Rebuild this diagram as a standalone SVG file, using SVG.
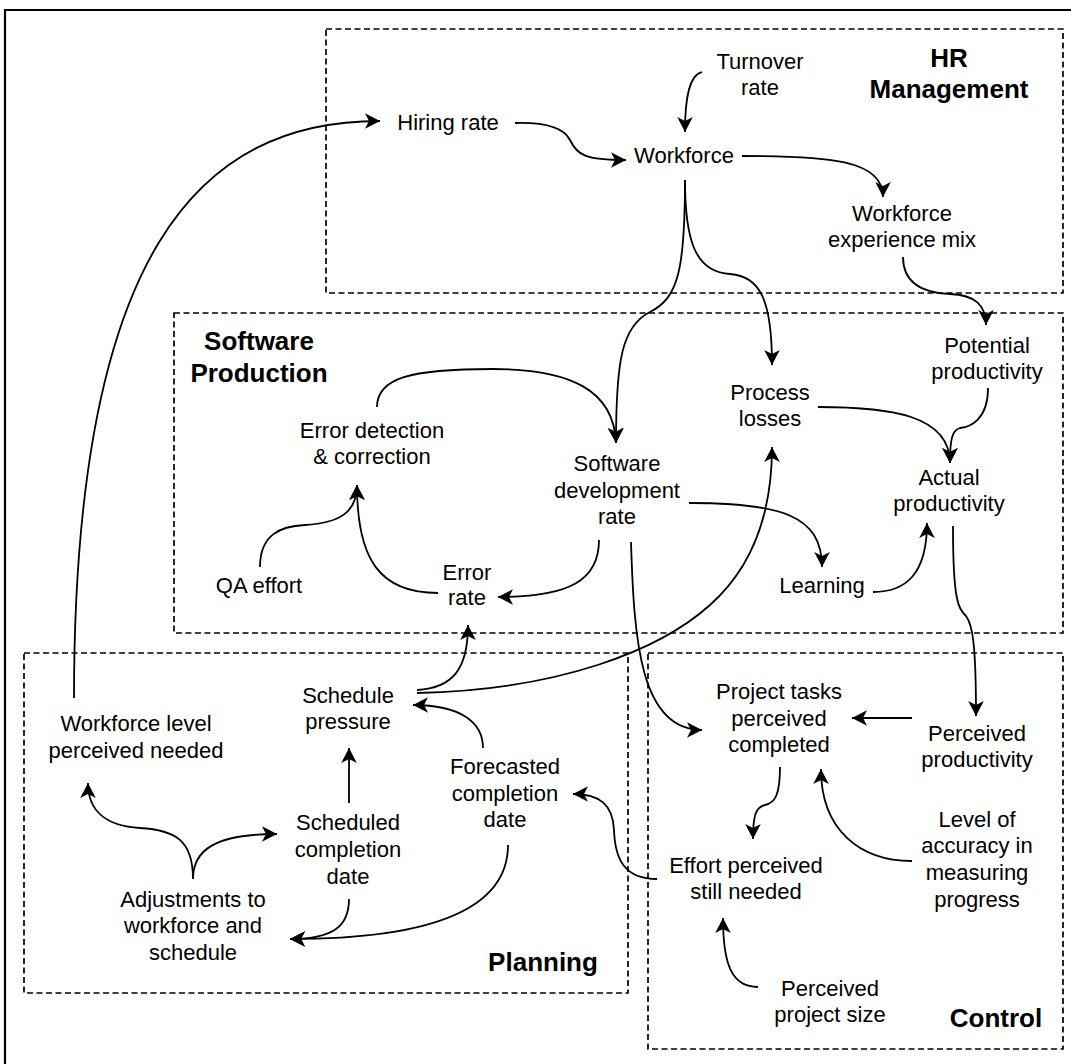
<svg xmlns="http://www.w3.org/2000/svg" width="1071" height="1064" viewBox="0 0 1071 1064">
  <style>
    .lbl { font-family: "Liberation Sans", Arial, Helvetica, sans-serif; font-size: 22px; fill: #000; text-anchor: middle; }
    .ttl { font-family: "Liberation Sans", Arial, Helvetica, sans-serif; font-size: 26px; font-weight: bold; fill: #000; text-anchor: middle; }
    .zone { fill: none; stroke: #000; stroke-width: 1.7; stroke-dasharray: 6 3.5; }
    .edge { fill: none; stroke: #000; stroke-width: 1.8; marker-end: url(#arr); }
    .plain { fill: none; stroke: #000; stroke-width: 1.8; }
  </style>
  <defs>
    <!-- classic notched arrowhead, tip at the path end -->
    <marker id="arr" markerUnits="userSpaceOnUse" viewBox="-17 -9 19 18" markerWidth="19" markerHeight="18" refX="0" refY="0" orient="auto">
      <path d="M0,0 L-15,-7.8 L-11,0 L-15,7.8 Z" fill="#000"/>
    </marker>
  </defs>

  <rect width="1071" height="1064" fill="#fff"/>
  <!-- outer frame (right and bottom sides lie outside the canvas) -->
  <path d="M5,1064 V10 H1071" fill="none" stroke="#000" stroke-width="2.2"/>

  <!-- sector containers -->
  <g id="hr-management">
    <rect class="zone" x="326" y="29" width="737" height="264"/>
    <text class="ttl"><tspan x="949" y="67">HR</tspan><tspan x="949" y="98">Management</tspan></text>
  </g>
  <g id="software-production">
    <rect class="zone" x="174" y="313" width="889" height="320"/>
    <text class="ttl"><tspan x="259" y="350">Software</tspan><tspan x="259" y="382">Production</tspan></text>
  </g>
  <g id="planning">
    <rect class="zone" x="24" y="653" width="604" height="340"/>
    <text class="ttl" x="543" y="971">Planning</text>
  </g>
  <g id="control">
    <rect class="zone" x="648" y="653" width="415" height="396"/>
    <text class="ttl" x="996" y="1027">Control</text>
  </g>

  <!-- causal links -->
  <g id="connectors">
    <path class="edge" d="M74,698 C74,250 200,121 380,121"/>
    <path class="edge" d="M515,123 C550,122 565,130 570,140 C577,155 585,160 626,160"/>
    <path class="edge" d="M702,72 C690,75 685,95 685,132"/>
    <path class="edge" d="M742,156 C830,156 883,160 883,197"/>
    <path class="edge" d="M685,180 C685,270 678,298 650,312 C622,326 616,360 616,443"/>
    <path class="edge" d="M685,180 C685,240 695,272 730,274 C760,276 772,300 772,365"/>
    <path class="edge" d="M903,257 C903,285 925,293 950,294 C975,295 986,305 986,325"/>
    <path class="edge" d="M377,407 C377,378 410,369 493,369 C570,369 614,390 616,443"/>
    <path class="edge" d="M818,407 C890,407 950,415 950,463"/>
    <path class="edge" d="M988,388 C988,420 970,427 960,428 C952,430 950,440 950,463"/>
    <path class="edge" d="M689,503 C780,503 822,515 822,567"/>
    <path class="edge" d="M873,592 C905,592 927,575 927,523"/>
    <path class="edge" d="M953,526 C953,600 958,608 966,616 C972,624 976,640 976,716"/>
    <path class="edge" d="M417,693 C560,690 660,650 710,605 C755,565 772,510 772,447"/>
    <path class="edge" d="M417,690 C452,688 468,670 468,625"/>
    <path class="edge" d="M438,593 C380,593 357,560 357,485"/>
    <path class="edge" d="M260,567 C260,535 280,526 305,525 C340,523 357,512 357,485"/>
    <path class="edge" d="M599,540 C599,580 570,597 498,597"/>
    <path class="edge" d="M631,542 C634,640 640,730 702,730"/>
    <path class="edge" d="M912,718 L852,718"/>
    <path class="edge" d="M780,767 C780,795 775,803 765,805 C756,807 753,815 753,839"/>
    <path class="edge" d="M912,861 C860,861 821,830 821,769"/>
    <path class="edge" d="M758,987 C732,987 723,965 723,918"/>
    <path class="edge" d="M657,879 C625,879 615,860 614,830 C613,805 600,794 573,794"/>
    <path class="edge" d="M483,748 C483,722 460,705 413,705"/>
    <path class="edge" d="M349,803 L349,748"/>
    <path class="edge" d="M193,879 C193,840 175,830 140,828 C105,826 88,810 88,783"/>
    <path class="edge" d="M193,879 C193,850 215,834 277,834"/>
    <path class="edge" d="M349,899 C349,925 335,939 290,939"/>
    <path class="edge" d="M508,845 C508,910 430,939 290,939"/>
  </g>

  <!-- variables -->
  <g id="turnover-rate"><text class="lbl"><tspan x="760" y="69">Turnover</tspan><tspan x="760" y="95">rate</tspan></text></g>
  <g id="hiring-rate"><text class="lbl" x="448" y="130">Hiring rate</text></g>
  <g id="workforce"><text class="lbl" x="684" y="163">Workforce</text></g>
  <g id="workforce-experience-mix"><text class="lbl"><tspan x="902" y="221">Workforce</tspan><tspan x="902" y="247">experience mix</tspan></text></g>
  <g id="potential-productivity"><text class="lbl"><tspan x="987" y="353">Potential</tspan><tspan x="987" y="379">productivity</tspan></text></g>
  <g id="process-losses"><text class="lbl"><tspan x="770" y="400">Process</tspan><tspan x="770" y="426">losses</tspan></text></g>
  <g id="error-detection"><text class="lbl"><tspan x="372" y="438">Error detection</tspan><tspan x="372" y="464">&amp; correction</tspan></text></g>
  <g id="software-development-rate"><text class="lbl"><tspan x="617" y="471">Software</tspan><tspan x="617" y="497.5">development</tspan><tspan x="617" y="524">rate</tspan></text></g>
  <g id="actual-productivity"><text class="lbl"><tspan x="949" y="485">Actual</tspan><tspan x="949" y="511">productivity</tspan></text></g>
  <g id="qa-effort"><text class="lbl" x="259" y="593">QA effort</text></g>
  <g id="error-rate"><text class="lbl"><tspan x="467" y="580">Error</tspan><tspan x="467" y="605">rate</tspan></text></g>
  <g id="learning"><text class="lbl" x="822" y="593">Learning</text></g>
  <g id="schedule-pressure"><text class="lbl"><tspan x="348" y="703">Schedule</tspan><tspan x="348" y="729">pressure</tspan></text></g>
  <g id="workforce-level-needed"><text class="lbl"><tspan x="136" y="731">Workforce level</tspan><tspan x="136" y="758">perceived needed</tspan></text></g>
  <g id="project-tasks-completed"><text class="lbl"><tspan x="779" y="699">Project tasks</tspan><tspan x="779" y="726">perceived</tspan><tspan x="779" y="752">completed</tspan></text></g>
  <g id="perceived-productivity"><text class="lbl"><tspan x="977" y="741">Perceived</tspan><tspan x="977" y="767">productivity</tspan></text></g>
  <g id="forecasted-completion-date"><text class="lbl"><tspan x="505" y="774">Forecasted</tspan><tspan x="505" y="800.5">completion</tspan><tspan x="505" y="827">date</tspan></text></g>
  <g id="scheduled-completion-date"><text class="lbl"><tspan x="348" y="830">Scheduled</tspan><tspan x="348" y="857">completion</tspan><tspan x="348" y="884">date</tspan></text></g>
  <g id="accuracy-measuring-progress"><text class="lbl"><tspan x="977" y="827">Level of</tspan><tspan x="977" y="853">accuracy in</tspan><tspan x="977" y="880">measuring</tspan><tspan x="977" y="907">progress</tspan></text></g>
  <g id="effort-still-needed"><text class="lbl"><tspan x="746" y="873">Effort perceived</tspan><tspan x="746" y="899">still needed</tspan></text></g>
  <g id="adjustments"><text class="lbl"><tspan x="193" y="907">Adjustments to</tspan><tspan x="193" y="933">workforce and</tspan><tspan x="193" y="960">schedule</tspan></text></g>
  <g id="perceived-project-size"><text class="lbl"><tspan x="830" y="996">Perceived</tspan><tspan x="830" y="1022">project size</tspan></text></g>
</svg>
